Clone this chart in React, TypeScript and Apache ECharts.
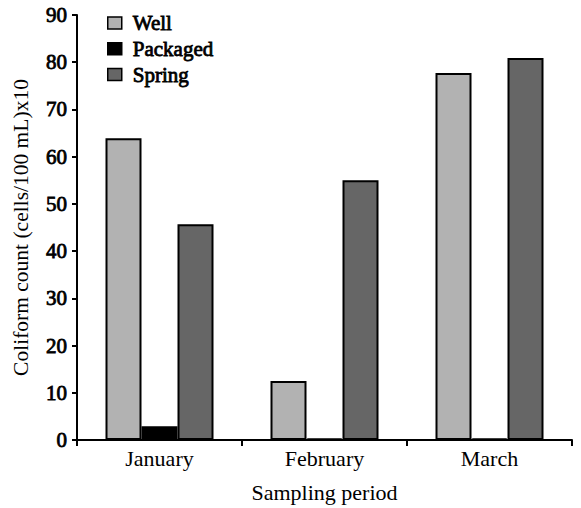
import React, { useEffect, useRef } from "react";
import * as echarts from "echarts";

const categories = ["January", "February", "March"];
const wellValues = [63.9, 12.5, 77.7];
const packagedValues = [2.9, 0.3, 0.3];
const springValues = [45.7, 55.0, 80.9];
const yTicks = [0, 10, 20, 30, 40, 50, 60, 70, 80, 90];

const FONT = "Liberation Serif";

export default function App() {
  const ref = useRef<HTMLDivElement>(null);
  useEffect(() => {
    if (!ref.current) return;
    const chart = echarts.init(ref.current, undefined, { renderer: "svg" });
    const barStyle = (color: string) => ({
      color,
      borderColor: "#000",
      borderWidth: 2,
    });
    const boldish = { textBorderColor: "#000", textBorderWidth: 0.8 };
    chart.setOption({
      animation: false,
      backgroundColor: "#fff",
      textStyle: { fontFamily: FONT },
      grid: { left: 77, right: 9, top: 15, bottom: 65, containLabel: false },
      legend: {
        orient: "vertical",
        left: 102,
        top: 7,
        itemWidth: 14,
        itemHeight: 12,
        itemGap: 4,
        icon: "rect",
        itemStyle: { borderColor: "#000", borderWidth: 1.5 },
        textStyle: {
          fontFamily: FONT,
          fontSize: 21,
          color: "#000",
          padding: [0, 0, 0, 6],
          ...boldish,
        },
        data: ["Well", "Packaged", "Spring"],
      },
      xAxis: {
        type: "category",
        data: categories,
        name: "Sampling period",
        nameLocation: "middle",
        nameGap: 41,
        nameTextStyle: { fontFamily: FONT, fontSize: 22, color: "#000" },
        axisLine: { lineStyle: { color: "#000", width: 2 } },
        axisTick: { show: true, length: 6, lineStyle: { color: "#000", width: 2 } },
        axisLabel: { fontFamily: FONT, fontSize: 22, color: "#000", margin: 7 },
      },
      yAxis: {
        type: "value",
        min: 0,
        max: 90,
        interval: 10,
        name: "Coliform count (cells/100 mL)x10",
        nameLocation: "middle",
        nameGap: 45,
        nameTextStyle: { fontFamily: FONT, fontSize: 21.5, color: "#000" },
        axisLine: { show: true, lineStyle: { color: "#000", width: 2 } },
        axisTick: { show: true, length: 5, lineStyle: { color: "#000", width: 2 } },
        axisLabel: {
          fontFamily: FONT,
          fontSize: 21,
          color: "#000",
          margin: 10,
          ...boldish,
          formatter: (v: number) => (yTicks.includes(v) ? String(v) : ""),
        },
        splitLine: { show: false },
      },
      series: [
        { name: "Well", type: "bar", data: wellValues, barWidth: 36, barGap: "0%", itemStyle: barStyle("#b2b2b2") },
        { name: "Packaged", type: "bar", data: packagedValues, barWidth: 36, barGap: "0%", itemStyle: barStyle("#000000") },
        { name: "Spring", type: "bar", data: springValues, barWidth: 36, barGap: "0%", itemStyle: barStyle("#666666") },
      ],
    });
    return () => chart.dispose();
  }, []);
  return <div ref={ref} style={{ width: 581, height: 508, position: "absolute", left: 0, top: 0 }} />;
}
